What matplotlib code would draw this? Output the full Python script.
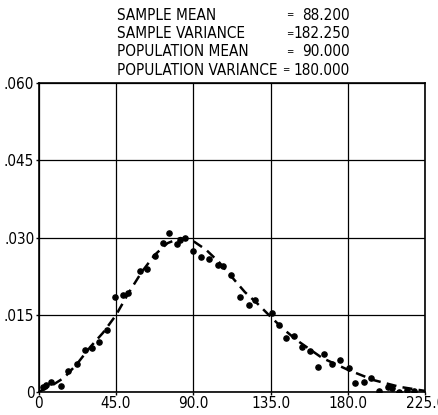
import matplotlib.pyplot as plt

# histogram heights (dots) read per class interval
sample_x = [2.5, 4.5, 7.0, 12.9, 17.3, 22.6, 27.1, 31.0, 35.4, 39.7,
            44.5, 49.4, 52.3, 59.1, 63.0, 67.5, 72.2, 76.1, 80.5, 82.0,
            85.3, 90.1, 94.6, 99.3, 104.5, 107.4, 112.0, 117.3, 122.1, 126.0,
            135.8, 140.0, 144.1, 148.6, 153.2, 158.0, 162.3, 166.2, 170.9, 175.5,
            180.6, 184.2, 189.1, 193.4, 197.8, 203.0, 205.5, 209.5, 214.0, 218.2]
sample_y = [0.0010, 0.0014, 0.0020, 0.0012, 0.0041, 0.0055, 0.0081, 0.0085, 0.0097, 0.0121,
            0.0184, 0.0188, 0.0192, 0.0235, 0.0238, 0.0265, 0.0290, 0.0309, 0.0287, 0.0295,
            0.0300, 0.0274, 0.0262, 0.0258, 0.0247, 0.0245, 0.0227, 0.0185, 0.0169, 0.0179,
            0.0153, 0.0130, 0.0104, 0.0109, 0.0088, 0.0080, 0.0049, 0.0073, 0.0055, 0.0062,
            0.0046, 0.0018, 0.0020, 0.0028, 0.0001, 0.0010, 0.0007, 0.0000, 0.0004, 0.0001]

# theoretical density (dashed)
curve_x = [0, 7.5, 15, 22.5, 30, 37.5, 45, 52.5, 60, 67.5, 75, 82.5, 90, 97.5,
           105, 112.5, 120, 127.5, 135, 142.5, 150, 165, 180, 195, 210, 225]
curve_y = [0.0, 0.0012, 0.0028, 0.0055, 0.0087, 0.0115, 0.0149, 0.0193, 0.0233, 0.0266,
           0.0289, 0.0299, 0.0293, 0.0276, 0.0252, 0.0223, 0.0194, 0.0171, 0.0146, 0.0122,
           0.0101, 0.0066, 0.0043, 0.0023, 0.0010, 0.0002]

stat_names = ['SAMPLE MEAN', 'SAMPLE VARIANCE', 'POPULATION MEAN', 'POPULATION VARIANCE']
stat_values = ['88.200', '182.250', '90.000', '180.000']

xticks = [0, 45, 90, 135, 180, 225]
xtick_labels = ['0', '45.0', '90.0', '135.0', '180.0', '225.0']
yticks = [0, 0.015, 0.030, 0.045, 0.060]
ytick_labels = ['0', '.015', '.030', '.045', '.060']

txt = dict(family='DejaVu Sans', fontstretch='condensed')

fig = plt.figure(figsize=(4.39, 4.15), dpi=100)
ax = fig.add_axes([0.0877, 0.0554, 0.8815, 0.7446])

ax.plot(curve_x, curve_y, color='black', linestyle=(0, (4, 2.5)), linewidth=1.8)
ax.scatter(sample_x, sample_y, s=14, color='black', zorder=3)

ax.set_xlim(0, 225)
ax.set_ylim(0, 0.060)
ax.set_xticks(xticks)
ax.set_xticklabels(xtick_labels, fontsize=11, **txt)
ax.set_yticks(yticks)
ax.set_yticklabels(ytick_labels, fontsize=11, **txt)
ax.tick_params(length=2, width=1, pad=1, colors='black')
ax.grid(True, color='black', linewidth=0.9)
for s in ax.spines.values():
    s.set_linewidth(1.2)

# summary statistics block
for i, (name, val) in enumerate(zip(stat_names, stat_values)):
    y = 0.963 - i * 0.044
    fig.text(0.266, y, name, fontsize=11, va='center', ha='left', **txt)
    fig.text(0.660 if i < 3 else 0.651, y, '=', fontsize=7, va='center', ha='center', **txt)
    fig.text(0.797, y, val, fontsize=11, va='center', ha='right', **txt)

fig.savefig('out.png', dpi=100)
